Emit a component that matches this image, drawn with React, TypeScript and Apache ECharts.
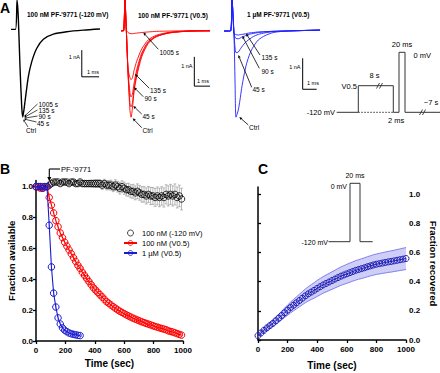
import React, { useEffect, useRef } from "react";
import * as echarts from "echarts";

const FONT = '"Liberation Sans", Arial, Helvetica, sans-serif';

// ---------- Panel A: current traces (time in ms, current in nA) ----------
const blackTime = [0, 0.26, 0.35, 0.42, 0.52, 0.62, 0.68, 0.82, 1.0, 1.2, 1.49, 1.87, 2.45, 3.22, 4.18, 5.14];
const blackCurrent = [0, 0, 1.1, 0.47, -1.4, -2.9, -3.29, -2.65, -1.78, -1.21, -0.71, -0.37, -0.18, -0.09, -0.03, 0.01];

const redTime = [0, 0.16, 0.25, 0.34, 0.45, 0.57, 0.64, 0.73, 0.83, 1.0, 1.32, 1.74, 2.27, 3.12, 4.39, 5.67];
const redCtrl = [0, 0, 1.05, 0.02, -1.51, -2.71, -2.95, -2.64, -2.09, -1.56, -0.89, -0.43, -0.2, -0.07, -0.01, 0];
const red45 = [0, 0, 1.05, 0.02, -1.45, -2.48, -2.6, -2.45, -1.98, -1.45, -0.82, -0.4, -0.19, -0.07, -0.01, 0];
const red90 = [0, 0, 1.05, 0.02, -1.4, -2.12, -2.26, -2.16, -1.8, -1.33, -0.76, -0.37, -0.18, -0.06, -0.01, 0];
const red135 = [0, 0, 1.05, 0.02, -1.3, -1.6, -1.67, -1.6, -1.36, -1.04, -0.62, -0.31, -0.15, -0.05, -0.01, 0];
const red1005 = [0, 0, 1.05, 0.02, -0.06, -0.09, -0.1, -0.1, -0.09, -0.08, -0.06, -0.04, -0.02, -0.01, 0, 0];

const blueTime = [0, 0.46, 0.57, 0.71, 0.79, 0.86, 1.02, 1.14, 1.26, 1.43, 1.62, 1.86, 2.09, 2.45, 2.93, 3.52, 4.48, 6.86];
const blueCtrl = [0, 0, 1.0, -0.06, -1.68, -2.78, -2.55, -2.23, -1.85, -1.42, -1.04, -0.72, -0.51, -0.29, -0.15, -0.05, 0, 0.03];
const blue45 = [0, 0, 1.0, -0.06, -0.55, -0.7, -0.68, -0.6, -0.52, -0.42, -0.33, -0.25, -0.18, -0.11, -0.06, -0.02, 0, 0.03];
const blue90 = [0, 0, 1.0, -0.06, -0.2, -0.24, -0.25, -0.23, -0.2, -0.17, -0.13, -0.1, -0.08, -0.05, -0.03, -0.01, 0, 0.03];
const blue135 = [0, 0, 1.0, -0.06, -0.1, -0.12, -0.13, -0.12, -0.11, -0.1, -0.08, -0.06, -0.05, -0.03, -0.02, -0.01, 0, 0.03];

// scale bars: [x(ms), y(nA)] corner points (1 nA, 1 ms)
const blackBar = [[4.09, -0.78], [4.09, -1.78], [5.09, -1.78]];
const redBar = [[4.67, -0.89], [4.67, -1.89], [5.67, -1.89]];
const blueBar = [[5.62, -0.88], [5.62, -1.88], [6.62, -1.88]];

// ---------- Panel B: fraction available ----------
const timeB = [0, 15, 30, 45, 60, 75, 90, 105, 120, 135, 150, 165, 180, 195, 210, 225, 240, 255, 270, 285, 300, 315, 330, 345, 360, 375, 390, 405, 420, 435, 450, 465, 480, 495, 510, 525, 540, 555, 570, 585, 600, 615, 630, 645, 660, 675, 690, 705, 720, 735, 750, 765, 780, 795, 810, 825, 840, 855, 870, 885, 900, 915, 930, 945, 960, 975, 990];
const black120 = [1.0, 1.0, 1.0, 1.0, 1.0, 1.0,
  1.01, 1.02, 1.03, 1.03, 1.03, 1.02, 1.03, 1.03, 1.03,
  1.02, 1.03, 1.03, 1.02, 1.02, 1.03, 1.02, 1.02, 1.02,
  1.02, 1.02, 1.02, 1.02, 1.02, 1.02, 1.01, 1.02, 1.01,
  1.01, 1.01, 1.0, 1.01, 1.0, 0.99, 1.0, 0.99, 0.98,
  0.98, 0.97, 0.97, 0.96, 0.97, 0.96, 0.95, 0.95, 0.94,
  0.95, 0.94, 0.94, 0.93, 0.94, 0.93, 0.94, 0.93, 0.95,
  0.94, 0.95, 0.94, 0.95, 0.93, 0.94, 0.92];
const black120Err = [0.005, 0.005, 0.005, 0.005, 0.005, 0.005,
  0.01, 0.01, 0.01, 0.01, 0.01, 0.01, 0.01, 0.01, 0.01,
  0.012, 0.012, 0.015, 0.015, 0.015, 0.018, 0.018, 0.02, 0.02,
  0.02, 0.022, 0.022, 0.025, 0.025, 0.025, 0.028, 0.028, 0.03,
  0.03, 0.032, 0.032, 0.035, 0.035, 0.038, 0.038, 0.04, 0.04,
  0.042, 0.042, 0.045, 0.045, 0.048, 0.048, 0.05, 0.05, 0.052,
  0.052, 0.055, 0.055, 0.058, 0.058, 0.06, 0.06, 0.062, 0.062,
  0.065, 0.065, 0.065, 0.068, 0.068, 0.07, 0.07];
const redV05 = [1.0, 1.0, 0.99, 0.99, 1.0, 1.0,
  0.93, 0.88, 0.83, 0.78, 0.74, 0.70, 0.67, 0.64, 0.615,
  0.59, 0.565, 0.54, 0.515, 0.49, 0.47, 0.445, 0.425, 0.405,
  0.385, 0.365, 0.345, 0.33, 0.315, 0.30, 0.285, 0.27, 0.255,
  0.245, 0.233, 0.222, 0.212, 0.202, 0.193, 0.185, 0.177, 0.169,
  0.162, 0.155, 0.148, 0.142, 0.136, 0.13, 0.124, 0.119, 0.114,
  0.109, 0.104, 0.099, 0.094, 0.09, 0.085, 0.081, 0.077, 0.073,
  0.066, 0.062, 0.058, 0.053, 0.048, 0.043, 0.038];
const redV05Err = [0.01, 0.01, 0.01, 0.01, 0.01, 0.01,
  0.015, 0.015, 0.018, 0.018, 0.02, 0.02, 0.02, 0.022, 0.022,
  0.025, 0.025, 0.025, 0.028, 0.028, 0.028, 0.03, 0.03, 0.03,
  0.03, 0.03, 0.028, 0.028, 0.028, 0.025, 0.025, 0.025, 0.022,
  0.022, 0.022, 0.02, 0.02, 0.02, 0.02, 0.02, 0.018, 0.018,
  0.018, 0.018, 0.018, 0.016, 0.016, 0.016, 0.016, 0.015, 0.015,
  0.015, 0.015, 0.015, 0.014, 0.014, 0.014, 0.014, 0.013, 0.013,
  0.013, 0.013, 0.012, 0.012, 0.012, 0.012, 0.012];
const timeBlue = [0, 15, 30, 45, 60, 75, 90, 105, 120, 135, 150, 165, 180, 195, 210, 225, 240, 255, 270, 285, 300];
const blue1uM = [1.0, 1.0, 1.0, 0.99, 1.0, 1.0, 0.75, 0.48, 0.31, 0.22, 0.15, 0.11, 0.085, 0.07, 0.06, 0.052, 0.047, 0.043, 0.04, 0.037, 0.035];
const blue1uMErr = [0.005, 0.005, 0.005, 0.005, 0.005, 0.005, 0.02, 0.02, 0.02, 0.015, 0.012, 0.01, 0.01, 0.008, 0.008, 0.007, 0.007, 0.006, 0.006, 0.006, 0.006];

// ---------- Panel C: fraction recovered ----------
const timeC = [0, 20, 40, 60, 80, 100, 120, 140, 160, 180, 200, 220, 240, 260, 280, 300, 320, 340, 360, 380, 400, 420, 440, 460, 480, 500, 520, 540, 560, 580, 600, 620, 640, 660, 680, 700, 720, 740, 760, 780, 800, 820, 840, 860, 880, 900, 920, 940, 960, 980, 1000];
const recovC = [0.03, 0.048, 0.066, 0.083, 0.099, 0.114, 0.132, 0.15, 0.168, 0.187, 0.205, 0.223, 0.239, 0.255, 0.271, 0.287, 0.303, 0.317, 0.329, 0.341, 0.354, 0.366, 0.378, 0.388, 0.398, 0.408, 0.418, 0.428, 0.438, 0.446, 0.454, 0.462, 0.47, 0.478, 0.484, 0.49, 0.496, 0.503, 0.509, 0.515, 0.52, 0.524, 0.528, 0.532, 0.536, 0.539, 0.543, 0.547, 0.551, 0.555, 0.559];
const recovCErr = [0.01, 0.012, 0.015, 0.018, 0.02, 0.022, 0.025, 0.028, 0.03, 0.032, 0.035, 0.037, 0.039, 0.041, 0.043, 0.045, 0.047, 0.049, 0.051, 0.053, 0.055, 0.056, 0.057, 0.058, 0.059, 0.06, 0.061, 0.062, 0.063, 0.064, 0.065, 0.066, 0.066, 0.067, 0.067, 0.068, 0.068, 0.069, 0.069, 0.07, 0.07, 0.071, 0.071, 0.072, 0.072, 0.073, 0.073, 0.074, 0.074, 0.075, 0.075];

const fractionTicks = [0, 0.2, 0.4, 0.6, 0.8, 1.0];
const timeTicks = [0, 200, 400, 600, 800, 1000];

const RED = "#ff0000";
const BLUE = "#2020ff";

const pairs = (xs: number[], ys: number[]) => xs.map((x, i) => [x, ys[i]]);
const errData = (xs: number[], ys: number[], es: number[]) => xs.map((x, i) => [x, ys[i] - es[i], ys[i] + es[i]]);

// ---------- drawing helpers for annotations ----------
function T(text: string, x: number, y: number, size = 6.5, weight = "normal", align = "left", vAlign = "middle") {
  return {
    type: "text", x, y, silent: true, z: 100,
    style: { text, fill: "#000", fontSize: size, fontWeight: weight, fontFamily: FONT, align, verticalAlign: vAlign, textAlign: align, textVerticalAlign: vAlign },
  };
}
function L(x1: number, y1: number, x2: number, y2: number, w = 1, color = "#000", dash?: number[]) {
  return { type: "line", silent: true, z: 100, shape: { x1, y1, x2, y2 }, style: { stroke: color, lineWidth: w, lineDash: dash } };
}
function P(points: number[][], w = 1, color = "#000") {
  return { type: "polyline", silent: true, z: 100, shape: { points }, style: { stroke: color, lineWidth: w, fill: null } };
}
function ARROW(x1: number, y1: number, x2: number, y2: number, head = 3, w = 0.8, color = "#000") {
  const dx = x2 - x1, dy = y2 - y1;
  const len = Math.hypot(dx, dy);
  const ux = dx / len, uy = dy / len;
  const bx = x2 - ux * head, by = y2 - uy * head;
  const px = -uy * head * 0.45, py = ux * head * 0.45;
  return [
    L(x1, y1, bx, by, w, color),
    { type: "polygon", silent: true, z: 100, shape: { points: [[x2, y2], [bx + px, by + py], [bx - px, by - py]] }, style: { fill: color } },
  ];
}

const errRender = (color: string) => (params: any, api: any) => {
  const x = api.value(0);
  const p1 = api.coord([x, api.value(1)]);
  const p2 = api.coord([x, api.value(2)]);
  const c = 1.4;
  return {
    type: "group",
    children: [
      { type: "line", shape: { x1: p1[0], y1: p1[1], x2: p2[0], y2: p2[1] }, style: { stroke: color, lineWidth: 0.7 } },
      { type: "line", shape: { x1: p1[0] - c, y1: p1[1], x2: p1[0] + c, y2: p1[1] }, style: { stroke: color, lineWidth: 0.7 } },
      { type: "line", shape: { x1: p2[0] - c, y1: p2[1], x2: p2[0] + c, y2: p2[1] }, style: { stroke: color, lineWidth: 0.7 } },
    ],
  };
};

const bandRender = (params: any, api: any) => {
  if (params.dataIndex !== 0) return null;
  const upper = timeC.map((t, i) => api.coord([t, recovC[i] + recovCErr[i]]));
  const lower = timeC.map((t, i) => api.coord([t, recovC[i] - recovCErr[i]]));
  return {
    type: "group",
    children: [
      { type: "polygon", shape: { points: upper.concat(lower.slice().reverse()) }, style: { fill: "rgba(125,125,235,0.38)", stroke: null } },
      { type: "polyline", shape: { points: upper }, style: { stroke: "#8080f0", lineWidth: 1, fill: null } },
      { type: "polyline", shape: { points: lower }, style: { stroke: "#8080f0", lineWidth: 1, fill: null } },
    ],
  };
};

const fracAxisCommon = {
  type: "value",
  splitLine: { show: false },
  axisLine: { show: true, lineStyle: { color: "#000", width: 1.5 } },
  axisTick: { show: true, length: 3, lineStyle: { color: "#000", width: 1.3 }, customValues: fractionTicks },
  axisLabel: { color: "#000", fontSize: 8, fontWeight: "bold", fontFamily: FONT, margin: 3, customValues: fractionTicks, formatter: (v: number) => v.toFixed(1) },
  nameTextStyle: { color: "#000", fontSize: 9.5, fontWeight: "bold", fontFamily: FONT },
};
const timeAxisCommon = {
  type: "value",
  min: 0,
  max: 1000,
  interval: 200,
  splitLine: { show: false },
  axisLine: { show: true, lineStyle: { color: "#000", width: 1.5 } },
  axisTick: { show: true, length: 3, lineStyle: { color: "#000", width: 1.3 }, customValues: timeTicks },
  axisLabel: { color: "#000", fontSize: 8, fontWeight: "bold", fontFamily: FONT, margin: 5, customValues: timeTicks, formatter: (v: number) => String(v) },
  nameTextStyle: { color: "#000", fontSize: 10, fontWeight: "bold", fontFamily: FONT },
  name: "Time (sec)",
  nameLocation: "middle",
};

const traceLine = (name: string, xs: number[], ys: number[], color: string, idx: number, width = 0.9) => ({
  type: "line", name, xAxisIndex: idx, yAxisIndex: idx, data: pairs(xs, ys), showSymbol: false, symbol: "none",
  smooth: 0.25, lineStyle: { color, width }, silent: true, z: 3,
});
const barLine = (pts: number[][], idx: number) => ({
  type: "line", xAxisIndex: idx, yAxisIndex: idx, data: pts, showSymbol: false, symbol: "none",
  lineStyle: { color: "#000", width: 1 }, silent: true, z: 3,
});

function buildOption() {
  const graphics: any[] = [];
  // panel letters
  graphics.push(T("A", 0, 8, 14, "bold"));
  graphics.push(T("B", 0, 169, 14, "bold"));
  graphics.push(T("C", 258, 169, 14, "bold"));
  // panel A titles
  graphics.push(T("100 nM PF-'9771 (-120 mV)", 27, 14, 6.5, "bold"));
  graphics.push(T("100 nM PF-'9771 (V0.5)", 138, 15, 6.5, "bold"));
  graphics.push(T("1 \u00b5M PF-'9771 (V0.5)", 247, 14, 6.5, "bold"));
  // scale bar labels
  graphics.push(T("1 nA", 80, 57, 5.5, "normal", "right"));
  graphics.push(T("1 ms", 87, 71.5, 5.5));
  graphics.push(T("1 nA", 192.5, 66, 5.5, "normal", "right"));
  graphics.push(T("1 ms", 197, 81, 5.5));
  graphics.push(T("1 nA", 300.5, 66.5, 5.5, "normal", "right"));
  graphics.push(T("1 ms", 307, 82.5, 5.5));
  // black panel annotations
  graphics.push(T("1005 s", 38.5, 104, 6.5));
  graphics.push(T("135 s", 38.5, 110, 6.5));
  graphics.push(T("90 s", 38.5, 116, 6.5));
  graphics.push(T("45 s", 37, 123.5, 6.5));
  graphics.push(T("Ctrl", 26, 130.5, 6.5));
  graphics.push(...ARROW(37.5, 104, 24.2, 116.5, 2.2, 0.7));
  graphics.push(...ARROW(37.5, 110, 24.2, 117.3, 2.2, 0.7));
  graphics.push(...ARROW(37.5, 116, 24.2, 118.2, 2.2, 0.7));
  graphics.push(...ARROW(36.5, 122, 24, 119, 2.2, 0.7));
  graphics.push(...ARROW(28, 127, 23.3, 119.5, 2.2, 0.7));
  // red panel annotations
  graphics.push(T("1005 s", 159.5, 52, 6.5));
  graphics.push(T("135 s", 150, 90, 6.5));
  graphics.push(T("90 s", 144.5, 98.5, 6.5));
  graphics.push(T("45 s", 142.5, 116, 6.5));
  graphics.push(T("Ctrl", 142.5, 130, 6.5));
  graphics.push(...ARROW(158.3, 49.3, 143.3, 32.5, 3));
  graphics.push(...ARROW(149.3, 88.3, 135, 74, 3));
  graphics.push(...ARROW(143.3, 96.7, 134, 87.3, 3));
  graphics.push(...ARROW(141.7, 114, 133.3, 106, 3));
  graphics.push(...ARROW(141.7, 127.7, 132.7, 118.3, 3));
  // blue panel annotations
  graphics.push(T("135 s", 261.5, 57.5, 6.5));
  graphics.push(T("90 s", 261.5, 71, 6.5));
  graphics.push(T("45 s", 252.5, 89.5, 6.5));
  graphics.push(T("Ctrl", 249, 127.5, 6.5));
  graphics.push(...ARROW(260, 55, 246, 33.5, 3));
  graphics.push(...ARROW(259.3, 68.3, 242.3, 36, 3));
  graphics.push(...ARROW(251.7, 87.3, 238.3, 55, 3));
  graphics.push(...ARROW(248.3, 125, 239.3, 117, 3));
  // voltage protocol (panel A right)
  graphics.push(P([[336.7, 112.3], [358.3, 112.3], [358.3, 85.7], [393.3, 85.7], [393.3, 112.3], [399, 112.3], [399, 52.3], [405, 52.3], [405, 112.3], [440, 112.3]], 1, "#333"));
  graphics.push(L(358.3, 112.3, 393.3, 112.3, 1, "#333", [1.5, 1.5]));
  graphics.push(L(376.5, 88.5, 379.5, 83, 0.9, "#333"));
  graphics.push(L(379.5, 88.5, 382.5, 83, 0.9, "#333"));
  graphics.push(L(419.5, 115, 422.5, 109.5, 0.9, "#333"));
  graphics.push(L(422.5, 115, 425.5, 109.5, 0.9, "#333"));
  graphics.push(T("-120 mV", 335, 112.5, 7.5, "normal", "right"));
  graphics.push(T("V0.5", 357, 86, 7.5, "normal", "right"));
  graphics.push(T("8 s", 374.5, 75.5, 7.5, "normal", "center"));
  graphics.push(T("20 ms", 402, 44.5, 7.5, "normal", "center"));
  graphics.push(T("0 mV", 413.5, 55, 7.5));
  graphics.push(T("2 ms", 396, 120, 7.5, "normal", "center"));
  graphics.push(T("~7 s", 431, 102, 7.5, "normal", "center"));
  // panel B drug arrow
  graphics.push(L(49.3, 169, 60, 169, 1.1));
  graphics.push(...ARROW(49.3, 169, 49.3, 181.5, 4.5, 1.1));
  graphics.push(T("PF-'9771", 61, 169, 7.5));
  // panel C inset protocol
  graphics.push(P([[328.5, 241.7], [350, 241.7], [350, 183.3], [360, 183.3], [360, 241.7], [372.7, 241.7]], 1, "#333"));
  graphics.push(T("-120 mV", 328, 242, 7, "normal", "right"));
  graphics.push(T("0 mV", 347, 186.5, 7, "normal", "right"));
  graphics.push(T("20 ms", 355, 175, 7, "normal", "center"));

  return {
    animation: false,
    backgroundColor: "#fff",
    textStyle: { fontFamily: FONT },
    legend: {
      data: ["100 nM (-120 mV)", "100 nM (V0.5)", "1 \u00b5M (V0.5)"],
      orient: "vertical",
      left: 123,
      top: 229,
      itemWidth: 13,
      itemHeight: 6,
      itemGap: 2,
      padding: 0,
      selectedMode: false,
      itemStyle: { borderWidth: 0.9 },
      textStyle: { fontSize: 7.5, color: "#000", fontFamily: FONT, padding: [0, 0, 0, 0] },
    },
    grid: [
      { left: 36, top: 180.5, width: 147, height: 160.5 },
      { left: 258, top: 187, width: 148, height: 153 },
      { left: 11, top: 0, width: 90, height: 120 },
      { left: 121, top: 0, width: 91.06, height: 130.4 },
      { left: 224, top: 0, width: 98, height: 124 },
    ],
    xAxis: [
      { ...timeAxisCommon, gridIndex: 0, nameGap: 17 },
      { ...timeAxisCommon, gridIndex: 1, nameGap: 20 },
      { type: "value", gridIndex: 2, min: 0, max: 5.2, show: false },
      { type: "value", gridIndex: 3, min: 0, max: 5.8, show: false },
      { type: "value", gridIndex: 4, min: 0, max: 7, show: false },
    ],
    yAxis: [
      { ...fracAxisCommon, gridIndex: 0, min: 0, max: 1.04, interval: 0.2, name: "Fraction available", nameLocation: "middle", nameRotate: 90, nameGap: 20 },
      { ...fracAxisCommon, gridIndex: 1, position: "right", min: 0, max: 1.05, interval: 0.2, name: "Fraction recovered", nameLocation: "middle", nameRotate: -90, nameGap: 22 },
      { type: "value", gridIndex: 2, min: -3.4, max: 1.1, show: false },
      { type: "value", gridIndex: 3, min: -3.4, max: 1.05, show: false },
      { type: "value", gridIndex: 4, min: -3.0, max: 1.0, show: false },
    ],
    series: [
      // panel B error bars
      { type: "custom", xAxisIndex: 0, yAxisIndex: 0, data: errData(timeB, black120, black120Err), renderItem: errRender("#9a9a9a"), encode: { x: 0, y: [1, 2] }, silent: true, z: 1 },
      { type: "custom", xAxisIndex: 0, yAxisIndex: 0, data: errData(timeB, redV05, redV05Err), renderItem: errRender("#ff9a9a"), encode: { x: 0, y: [1, 2] }, silent: true, z: 1 },
      { type: "custom", xAxisIndex: 0, yAxisIndex: 0, data: errData(timeBlue, blue1uM, blue1uMErr), renderItem: errRender("#9a9aff"), encode: { x: 0, y: [1, 2] }, silent: true, z: 1 },
      // panel B data
      {
        type: "scatter", name: "100 nM (-120 mV)", xAxisIndex: 0, yAxisIndex: 0, data: pairs(timeB, black120),
        symbol: "circle", symbolSize: 6.5, itemStyle: { color: "rgba(255,255,255,0)", borderColor: "#000", borderWidth: 1 }, z: 4,
      },
      {
        type: "line", name: "100 nM (V0.5)", xAxisIndex: 0, yAxisIndex: 0, data: pairs(timeB, redV05),
        symbol: "circle", symbolSize: 6.5, showSymbol: true, lineStyle: { color: RED, width: 1.1 },
        itemStyle: { color: "rgba(255,255,255,0)", borderColor: RED, borderWidth: 1 }, z: 4,
      },
      {
        type: "line", name: "1 \u00b5M (V0.5)", xAxisIndex: 0, yAxisIndex: 0, data: pairs(timeBlue, blue1uM),
        symbol: "circle", symbolSize: 6.5, showSymbol: true, lineStyle: { color: "#1a1ad0", width: 1.1 },
        itemStyle: { color: "rgba(255,255,255,0)", borderColor: "#1a1ad0", borderWidth: 1 }, z: 5,
      },
      // panel C
      { type: "custom", xAxisIndex: 1, yAxisIndex: 1, data: errData(timeC, recovC, recovCErr), renderItem: bandRender, encode: { x: 0, y: [1, 2] }, silent: true, z: 1 },
      {
        type: "line", name: "recovery", xAxisIndex: 1, yAxisIndex: 1, data: pairs(timeC, recovC),
        symbol: "circle", symbolSize: 6, showSymbol: true, lineStyle: { color: "#1e1eb4", width: 1 },
        itemStyle: { color: "rgba(255,255,255,0)", borderColor: "#1e1eb4", borderWidth: 1 }, z: 4,
      },
      // panel A traces
      traceLine("black", blackTime, blackCurrent, "#000", 2, 1.4),
      barLine(blackBar, 2),
      traceLine("red1005", redTime, red1005, RED, 3),
      traceLine("red135", redTime, red135, RED, 3),
      traceLine("red90", redTime, red90, RED, 3),
      traceLine("red45", redTime, red45, RED, 3),
      traceLine("redCtrl", redTime, redCtrl, RED, 3),
      barLine(redBar, 3),
      traceLine("blue135", blueTime, blue135, BLUE, 4),
      traceLine("blue90", blueTime, blue90, BLUE, 4),
      traceLine("blue45", blueTime, blue45, BLUE, 4),
      traceLine("blueCtrl", blueTime, blueCtrl, BLUE, 4),
      barLine(blueBar, 4),
    ],
    graphic: { elements: graphics },
  };
}

export default function App() {
  const ref = useRef<HTMLDivElement>(null);
  useEffect(() => {
    if (!ref.current) return;
    const chart = echarts.init(ref.current, null, { renderer: "svg" });
    chart.setOption(buildOption() as any);
    return () => chart.dispose();
  }, []);
  return <div ref={ref} style={{ position: "fixed", left: 0, top: 0, width: 440, height: 373, background: "#fff" }} />;
}
